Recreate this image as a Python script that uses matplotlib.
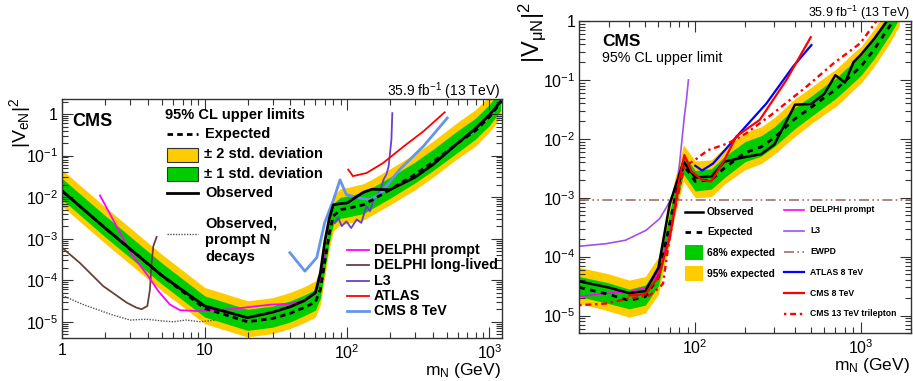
import numpy as np
import matplotlib
matplotlib.use("Agg")
import matplotlib.pyplot as plt
from matplotlib.lines import Line2D
from matplotlib.patches import Rectangle
from matplotlib.ticker import LogLocator, FuncFormatter, NullFormatter

plt.rcParams['font.family'] = ['Liberation Sans', 'DejaVu Sans']
plt.rcParams['mathtext.fontset'] = 'custom'
plt.rcParams['mathtext.rm'] = 'Liberation Sans'
plt.rcParams['mathtext.it'] = 'Liberation Sans:italic'
plt.rcParams['mathtext.bf'] = 'Liberation Sans:bold'

# ---------------- left panel: |V_eN|^2 ----------------
mass_e = [1, 2, 5, 10, 20, 30, 40, 50, 60, 65, 70, 75, 80, 90, 100, 130, 150, 200,
          300, 400, 600, 800, 1000, 1200]
obs_e = [1.4e-2, 1.8e-3, 1.3e-4, 2.4e-5, 1.25e-5, 1.7e-5, 2.3e-5, 3.2e-5, 5e-5, 1.5e-4,
         9e-4, 3e-3, 6.5e-3, 7e-3, 7.2e-3, 1.3e-2, 1.55e-2, 1.5e-2, 3e-2, 6e-2, 0.2,
         0.45, 0.95, 2.0]
exp_e = [1.4e-2, 1.8e-3, 1.3e-4, 2.1e-5, 1.0e-5, 1.2e-5, 1.6e-5, 2.2e-5, 3.0e-5, 6e-5,
         3e-4, 1.3e-3, 3.5e-3, 5.0e-3, 5.3e-3, 6.5e-3, 8.5e-3, 1.5e-2, 3.5e-2, 7e-2,
         0.2, 0.4, 0.85, 1.9]
exp1_lo_e = [8.7e-3, 1.1e-3, 8.1e-5, 1.3e-5, 6.2e-6, 7.4e-6, 9.9e-6, 1.4e-5, 1.9e-5,
             3.7e-5, 1.9e-4, 8.1e-4, 2.2e-3, 3.1e-3, 3.3e-3, 4.0e-3, 5.3e-3, 9.3e-3,
             2.2e-2, 4.3e-2, 0.12, 0.25, 0.53, 1.2]
exp1_hi_e = [2.8e-2, 3.6e-3, 2.6e-4, 4.2e-5, 2.0e-5, 2.4e-5, 3.2e-5, 4.4e-5, 6.0e-5,
             1.2e-4, 6e-4, 2.6e-3, 7.0e-3, 1.0e-2, 1.06e-2, 1.3e-2, 1.7e-2, 3.0e-2,
             7.0e-2, 0.14, 0.4, 0.8, 1.7, 3.8]
exp2_lo_e = [6.0e-3, 7.7e-4, 5.6e-5, 9.0e-6, 4.3e-6, 5.2e-6, 6.9e-6, 9.5e-6, 1.3e-5,
             2.6e-5, 1.3e-4, 5.6e-4, 1.5e-3, 2.2e-3, 2.3e-3, 2.8e-3, 3.7e-3, 6.5e-3,
             1.5e-2, 3.0e-2, 0.086, 0.17, 0.37, 0.82]
exp2_hi_e = [4.5e-2, 5.8e-3, 4.2e-4, 6.7e-5, 3.2e-5, 3.8e-5, 5.1e-5, 7.0e-5, 9.6e-5,
             1.9e-4, 9.6e-4, 4.2e-3, 1.1e-2, 1.6e-2, 1.7e-2, 2.1e-2, 2.7e-2, 4.8e-2,
             0.11, 0.22, 0.64, 1.28, 2.7, 6.1]

prompt_m = [1, 1.4, 2.2, 3, 3.9, 5, 6, 7.4, 9.3, 12]
prompt_v = [4.3e-5, 2.6e-5, 1.5e-5, 1.1e-5, 1.15e-5, 1.05e-5, 1.0e-5, 1.1e-5, 1.0e-5, 1.1e-5]

delphi_ll_m = [1, 1.33, 1.94, 2.83, 3.3, 3.61, 3.96, 4.13, 4.24, 4.36, 4.6]
delphi_ll_v = [6e-4, 2.6e-4, 7.2e-5, 2.9e-5, 2.2e-5, 2.0e-5, 2.4e-5, 6e-5, 2.6e-4, 6.6e-4, 1.1e-3]

delphi_pr_e_m = [1.84, 3.07, 4.02, 4.72, 5.7, 6.7, 9.3, 15, 24, 30, 40, 52, 59.5, 64.5, 70]
delphi_pr_e_v = [1.1e-2, 4.2e-4, 1.25e-4, 5.5e-5, 2.6e-5, 1.9e-5, 1.8e-5, 2.0e-5, 2.4e-5,
                 2.6e-5, 2.7e-5, 3.4e-5, 5e-5, 1.05e-4, 4e-4]

l3_e_m = [82, 86.8, 91.7, 99, 107, 117, 126, 137, 145, 154, 162, 172, 180, 189, 196, 205, 208]
l3_e_v = [2.4e-3, 3.2e-3, 2e-3, 2.6e-3, 1.8e-3, 2.9e-3, 2.4e-3, 6e-3, 4.6e-3, 8.7e-3,
          1.05e-2, 1.5e-2, 2.6e-2, 3.5e-2, 5.5e-2, 0.24, 1.05]

atlas_e_m = [102, 110, 137, 179, 250, 343, 485]
atlas_e_v = [4.6e-2, 3.2e-2, 3.8e-2, 6.6e-2, 0.166, 0.38, 1.1]

cms8_e_m = [39.7, 50.6, 61.3, 69.6, 80.4, 89.3, 99, 123, 145, 169, 234, 343, 506]
cms8_e_v = [4.6e-4, 1.65e-4, 3.5e-4, 2.4e-3, 8.7e-3, 2.6e-2, 1.15e-2, 9.5e-3, 8.7e-3,
            1.15e-2, 4.6e-2, 0.166, 0.8]

# ---------------- right panel: |V_muN|^2 ----------------
mass_mu = [20, 30, 40, 50, 60, 70, 75, 85, 100, 125, 150, 200, 250, 300, 400, 500, 600,
           700, 800, 900, 1000, 1200, 1500, 1700]
obs_mu = [3.8e-5, 3.0e-5, 2.4e-5, 2.6e-5, 6.5e-5, 7.6e-4, 1.4e-3, 4.1e-3, 2.2e-3, 2.3e-3,
          4.1e-3, 4.9e-3, 5.5e-3, 8e-3, 3.8e-2, 3.9e-2, 5.8e-2, 0.12, 0.09, 0.2, 0.27,
          0.5, 1.2, 2.5]
exp_mu = [3.0e-5, 2.3e-5, 1.8e-5, 2.1e-5, 4.5e-5, 3.5e-4, 9e-4, 3.6e-3, 1.9e-3, 2.0e-3,
          3.2e-3, 5.8e-3, 7.3e-3, 1.05e-2, 2.2e-2, 3.4e-2, 5e-2, 6.8e-2, 9.5e-2, 0.13,
          0.17, 0.33, 0.85, 1.6]
exp1_lo_mu = [2.1e-5, 1.6e-5, 1.3e-5, 1.5e-5, 3.2e-5, 2.5e-4, 6.3e-4, 2.5e-3, 1.3e-3,
              1.4e-3, 2.2e-3, 4.1e-3, 5.1e-3, 7.4e-3, 1.5e-2, 2.4e-2, 3.5e-2, 4.8e-2,
              6.7e-2, 9.1e-2, 0.12, 0.23, 0.6, 1.1]
exp1_hi_mu = [4.6e-5, 3.6e-5, 2.8e-5, 3.3e-5, 7.0e-5, 5.4e-4, 1.4e-3, 5.6e-3, 2.9e-3,
              3.1e-3, 5.0e-3, 9.0e-3, 1.13e-2, 1.6e-2, 3.4e-2, 5.3e-2, 7.8e-2, 0.105,
              0.15, 0.2, 0.26, 0.51, 1.3, 2.5]
exp2_lo_mu = [1.6e-5, 1.2e-5, 9.4e-6, 1.1e-5, 2.3e-5, 1.8e-4, 4.7e-4, 1.9e-3, 1.0e-3,
              1.04e-3, 1.7e-3, 3.0e-3, 3.8e-3, 5.5e-3, 1.1e-2, 1.8e-2, 2.6e-2, 3.5e-2,
              4.9e-2, 6.8e-2, 8.8e-2, 0.17, 0.44, 0.83]
exp2_hi_mu = [6.6e-5, 5.1e-5, 4.0e-5, 4.6e-5, 9.9e-5, 7.7e-4, 2.0e-3, 7.9e-3, 4.2e-3,
              4.4e-3, 7.0e-3, 1.3e-2, 1.6e-2, 2.3e-2, 4.8e-2, 7.5e-2, 0.11, 0.15, 0.21,
              0.29, 0.37, 0.73, 1.9, 3.5]

delphi_pr_mu_m = [20, 29, 40, 50.5, 58, 63, 68, 75, 82, 86]
delphi_pr_mu_v = [2.1e-5, 2.4e-5, 2.5e-5, 3e-5, 4.5e-5, 8e-5, 1.9e-4, 6e-4, 2.3e-3, 4e-3]

l3_mu_m = [20, 29, 38, 50.5, 61, 68.3, 74, 78.5, 82, 86, 88.5, 91]
l3_mu_v = [1.5e-4, 1.66e-4, 1.9e-4, 2.8e-4, 4.4e-4, 7.5e-4, 1.2e-3, 2e-3, 6.4e-3, 2.4e-2,
           4.6e-2, 0.1]

ewpd_m = [20, 2000]
ewpd_v = [9.1e-4, 9.1e-4]

atlas_mu_m = [100, 110, 128, 150, 185, 269, 390, 502]
atlas_mu_v = [3.5e-3, 2.9e-3, 3.8e-3, 6.3e-3, 1.24e-2, 4e-2, 0.17, 0.39]

cms8_mu_m = [40, 50, 60, 65, 70, 75, 80, 86, 95, 110, 125, 150, 177, 245, 355, 497]
cms8_mu_v = [2.2e-5, 2.3e-5, 4.5e-5, 1e-4, 2e-4, 6e-4, 2e-3, 5.3e-3, 2.8e-3, 2e-3, 1.9e-3,
             4.4e-3, 1.1e-2, 2.1e-2, 0.1, 0.53]

tri_m = [20, 29, 40, 53, 61, 64, 68.3, 75, 86, 100, 119, 158, 203, 295, 469, 681, 990, 1240]
tri_v = [1.5e-5, 1.6e-5, 1.95e-5, 2.2e-5, 3e-5, 3.5e-5, 1.3e-4, 6e-4, 3.4e-3, 4.4e-3,
         6.4e-3, 8.4e-3, 1.24e-2, 2.7e-2, 7.7e-2, 0.19, 0.42, 1.0]

YELLOW = '#FFCC00'
GREEN = '#00CC00'
TRI_LS = (0, (1, 1.6, 2.5, 1.6))
EWPD_LS = (0, (6, 2, 1, 2, 1, 2))
W, H = 913, 381


def fx(x):
    return x / W


def fy(y):
    return 1 - y / H


def tick_fmt(v, pos):
    e = int(round(np.log10(v)))
    if e == 0:
        return '1'
    if e == 1:
        return '10'
    return '$10^{%d}$' % e


def style(ax, xlim, ylim):
    ax.set_xscale('log')
    ax.set_yscale('log')
    ax.set_xlim(*xlim)
    ax.set_ylim(*ylim)
    ax.xaxis.set_major_locator(LogLocator(10, numticks=20))
    ax.yaxis.set_major_locator(LogLocator(10, numticks=20))
    ax.xaxis.set_minor_locator(LogLocator(10, subs=np.arange(2, 10), numticks=20))
    ax.yaxis.set_minor_locator(LogLocator(10, subs=np.arange(2, 10), numticks=20))
    ax.xaxis.set_major_formatter(FuncFormatter(tick_fmt))
    ax.yaxis.set_major_formatter(FuncFormatter(tick_fmt))
    ax.xaxis.set_minor_formatter(NullFormatter())
    ax.yaxis.set_minor_formatter(NullFormatter())
    ax.tick_params(which='both', direction='in', top=True, right=True,
                   labelsize=11.5, color='#333333', width=0.8)
    ax.tick_params(which='major', length=8)
    ax.tick_params(which='minor', length=4)
    ax.tick_params(axis='x', pad=3.5)
    ax.tick_params(axis='y', pad=3)
    for s in ax.spines.values():
        s.set_color('#333333')
        s.set_linewidth(1.0)


def leg_line(x0, x1, y, **kw):
    fig.add_artist(Line2D([fx(x0), fx(x1)], [fy(y), fy(y)], transform=fig.transFigure, **kw))


def leg_box(x0, y0, x1, y1, **kw):
    fig.add_artist(Rectangle((fx(x0), fy(y1)), (x1 - x0) / W, (y1 - y0) / H,
                             transform=fig.transFigure, **kw))


def label(x, y, s, **kw):
    kw.setdefault('va', 'center')
    fig.text(fx(x), fy(y), s, **kw)


fig = plt.figure(figsize=(W / 100, H / 100), dpi=100)
axL = fig.add_axes([0.0682, 0.1121, 0.4813, 0.6281])
axR = fig.add_axes([0.6345, 0.1252, 0.3633, 0.8197])

# ---- left ----
axL.fill_between(mass_e, exp2_lo_e, exp2_hi_e, color=YELLOW, lw=0)
axL.fill_between(mass_e, exp1_lo_e, exp1_hi_e, color=GREEN, lw=0)
axL.plot(prompt_m, prompt_v, color='#555555', lw=1.0, ls=(0, (1, 1)))
axL.plot(delphi_ll_m, delphi_ll_v, color='#6B3F3A', lw=1.3)
axL.plot(delphi_pr_e_m, delphi_pr_e_v, color='#FF00FF', lw=1.3)
axL.plot(l3_e_m, l3_e_v, color='#6A3FD0', lw=1.3)
axL.plot(atlas_e_m, atlas_e_v, color='#FF0000', lw=1.3)
axL.plot(cms8_e_m, cms8_e_v, color='#6495ED', lw=2.0)
axL.plot(mass_e, exp_e, color='black', lw=2.0, ls=(0, (2, 1.5)))
axL.plot(mass_e, obs_e, color='black', lw=2.0)
style(axL, (1, 1220), (4e-6, 2.3))

label(72, 122, 'CMS', fontsize=13, fontweight='bold')
label(500, 91, '35.9 fb$^{-1}$ (13 TeV)', fontsize=10, ha='right')
label(501, 375.5, 'm$_{\\mathrm{N}}$ (GeV)', fontsize=12.5, ha='right', va='baseline')
fig.text(fx(20), fy(98), '|V$_{\\mathrm{eN}}$|$^{2}$', fontsize=14, rotation=90,
         ha='center', va='top')

bold = dict(fontsize=10.5, fontweight='bold')
label(165, 115, '95% CL upper limits', **bold)
leg_line(167, 198, 134, color='black', lw=2.0, ls=(0, (2, 1.5)))
label(205, 134, 'Expected', **bold)
leg_box(167, 148, 198, 162, facecolor=YELLOW, edgecolor='#333333', lw=0.8)
label(204, 154, '± 2 std. deviation', **bold)
leg_box(167, 167, 198, 181, facecolor=GREEN, edgecolor='#333333', lw=0.8)
label(204, 174, '± 1 std. deviation', **bold)
leg_line(167, 198, 193, color='black', lw=2.0)
label(205, 193, 'Observed', **bold)
leg_line(167, 198, 234, color='#555555', lw=1.0, ls=(0, (1, 1)))
label(205, 216, 'Observed,\nprompt N\ndecays', va='top', linespacing=1.25, **bold)

ext_e = [('DELPHI prompt', '#FF00FF', 1.3), ('DELPHI long-lived', '#6B3F3A', 1.3),
         ('L3', '#6A3FD0', 1.3), ('ATLAS', '#FF0000', 1.3), ('CMS 8 TeV', '#6495ED', 2.0)]
for i, (name, col, lw) in enumerate(ext_e):
    y = 250 + 15.3 * i
    leg_line(347, 369, y, color=col, lw=lw)
    label(374, y, name, fontsize=10.3, fontweight='bold')

# ---- right ----
axR.fill_between(mass_mu, exp2_lo_mu, exp2_hi_mu, color=YELLOW, lw=0)
axR.fill_between(mass_mu, exp1_lo_mu, exp1_hi_mu, color=GREEN, lw=0)
axR.plot(ewpd_m, ewpd_v, color='#A07070', lw=1.2, ls=EWPD_LS)
axR.plot(l3_mu_m, l3_mu_v, color='#A050F0', lw=1.2)
axR.plot(delphi_pr_mu_m, delphi_pr_mu_v, color='#FF00FF', lw=1.2)
axR.plot(mass_mu, exp_mu, color='black', lw=2.0, ls=(0, (2, 2)))
axR.plot(mass_mu, obs_mu, color='black', lw=1.8)
axR.plot(atlas_mu_m, atlas_mu_v, color='#0000FF', lw=1.6)
axR.plot(cms8_mu_m, cms8_mu_v, color='#FF0000', lw=1.6)
axR.plot(tri_m, tri_v, color='#FF0000', lw=1.7, ls=TRI_LS)
style(axR, (20, 2000), (5e-6, 1))

label(602, 41, 'CMS', fontsize=12.5, fontweight='bold')
label(602, 58, '95% CL upper limit', fontsize=10.3)
label(910, 13, '35.9 fb$^{-1}$ (13 TeV)', fontsize=9, ha='right')
label(910, 370, 'm$_{\\mathrm{N}}$ (GeV)', fontsize=12.5, ha='right', va='baseline')
fig.text(fx(532), fy(2), '|V$_{\\mathrm{\u03bcN}}$|$^{2}$', fontsize=17, rotation=90,
         ha='center', va='top')

small = dict(fontsize=7.4, fontweight='bold')
leg_line(685, 703, 212, color='black', lw=1.8)
label(707, 212, 'Observed', **small)
leg_line(685, 703, 232, color='black', lw=2.0, ls=(0, (2, 2)))
label(707, 232, 'Expected', **small)
leg_box(685, 245, 703, 260, facecolor=GREEN, lw=0)
label(707, 253, '68% expected', **small)
leg_box(685, 266, 703, 281, facecolor=YELLOW, lw=0)
label(707, 274, '95% expected', **small)

ext_mu = [('DELPHI prompt', '#FF00FF', 1.2, '-'), ('L3', '#A050F0', 1.2, '-'),
          ('EWPD', '#A07070', 1.2, EWPD_LS),
          ('ATLAS 8 TeV', '#0000FF', 1.6, '-'), ('CMS 8 TeV', '#FF0000', 1.6, '-'),
          ('CMS 13 TeV trilepton', '#FF0000', 1.7, TRI_LS)]
for i, (name, col, lw, ls) in enumerate(ext_mu):
    y = 210 + 20.8 * i
    leg_line(784, 804, y, color=col, lw=lw, ls=ls)
    label(810, y, name, fontsize=6.2, fontweight='bold')

fig.savefig('out.png', dpi=100)
